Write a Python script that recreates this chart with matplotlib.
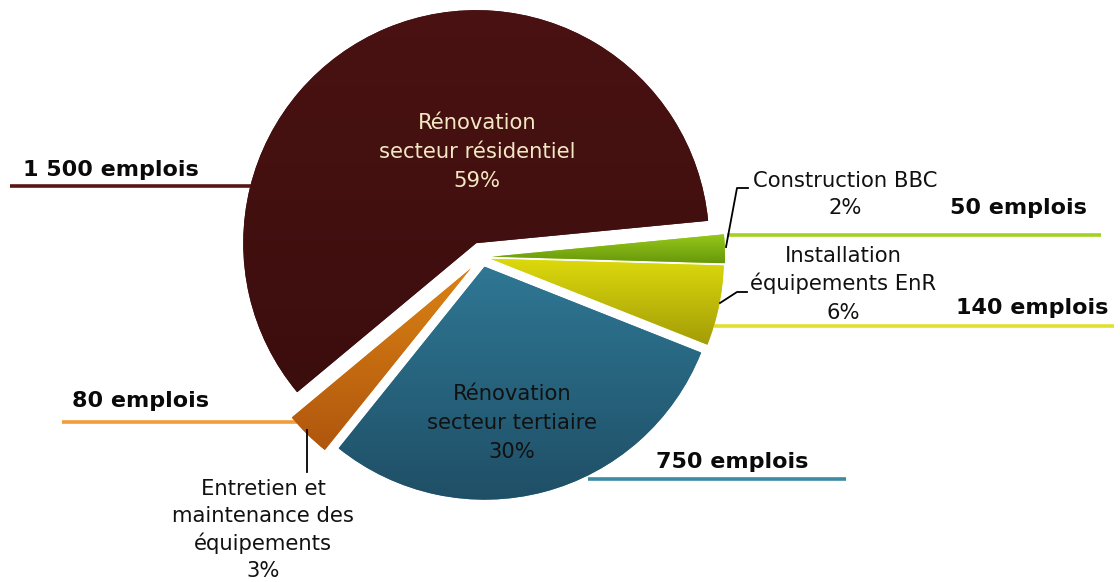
import numpy as np
import matplotlib
matplotlib.use("Agg")
import matplotlib.pyplot as plt
from matplotlib.colors import LinearSegmentedColormap

# ---- data ----
categories = ["Rénovation\nsecteur résidentiel", "Entretien et\nmaintenance des\néquipements",
              "Rénovation\nsecteur tertiaire", "Installation\néquipements EnR", "Construction BBC"]
jobs = [1500, 80, 750, 140, 50]
job_labels = ["1 500 emplois", "80 emplois", "750 emplois", "140 emplois", "50 emplois"]
shares = [59, 3, 30, 6, 2]

colors_top = ["#4a1212", "#da8214", "#2f7794", "#dcd90c", "#98ca1c"]
colors_bot = ["#3c0d0d", "#b0560e", "#1f4f66", "#a39c08", "#68980a"]
line_colors = ["#5a1616", "#f39a3a", "#3d8aa3", "#e0e030", "#a4d124"]

W, H = 1120, 582
fig = plt.figure(figsize=(W / 100, H / 100), dpi=100)
ax = fig.add_axes([0, 0, 1, 1])

def Y(y):
    return H - y

cx, cy, R = 482, 257, 233
wedges, _ = ax.pie(jobs, startangle=5.5, counterclock=True,
                   center=(cx, Y(cy)), radius=R,
                   explode=[15, 16, 10, 9, 10],
                   colors=colors_top, wedgeprops=dict(linewidth=0))
ax.set_xlim(0, W)
ax.set_ylim(0, H)
ax.set_aspect("auto")
ax.axis("off")

# gradient fills
for w, ct, cb in zip(wedges, colors_top, colors_bot):
    ext = w.get_path().get_extents()
    cmap = LinearSegmentedColormap.from_list("g", [cb, ct])
    grad = np.linspace(0, 1, 256).reshape(-1, 1)
    im = ax.imshow(grad, cmap=cmap, origin="lower", aspect="auto",
                   extent=(ext.x0, ext.x1, ext.y0, ext.y1), zorder=2)
    im.set_clip_path(w)
ax.set_xlim(0, W)
ax.set_ylim(0, H)

font = "DejaVu Sans"
fs = 15.2
bfs = 16


def block(x, y_first_baseline, step, text, color):
    for i, line in enumerate(text.split("\n")):
        ax.text(x, Y(y_first_baseline + i * step), line, ha="center", va="baseline",
                fontsize=fs, color=color, family=font, zorder=5)


# category labels (index: 0 resid, 1 entretien, 2 tertiaire, 3 EnR, 4 BBC)
block(477, 129, 29, f"{categories[0]}\n{shares[0]}%", "#f3e8c4")
block(512, 400, 29, f"{categories[2]}\n{shares[2]}%", "#111111")
block(845, 187, 27.5, f"{categories[4]}\n{shares[4]}%", "#111111")
block(843, 262, 28.5, f"{categories[3]}\n{shares[3]}%", "#111111")
block(263, 495, 27.3, f"{categories[1]}\n{shares[1]}%", "#111111")

# leader lines (black)
ax.plot([726, 737, 748], [Y(247), Y(188), Y(188)], color="black", lw=1.3, zorder=6)
ax.plot([720, 737, 747], [Y(303), Y(292), Y(292)], color="black", lw=1.3, zorder=6)
ax.plot([307, 307], [Y(430), Y(472)], color="black", lw=1.3, zorder=6)

# job lines + labels
job_pos = [  # (line x0, x1, y, text x, text y)
    (10, 252, 186, 111, 170),
    (62, 300, 422, 140, 401),
    (588, 846, 479, 732, 462),
    (714, 1114, 326, 1032, 308),
    (727, 1101, 235, 1018, 208),
]
for (x0, x1, yl, tx, ty), lab, lc in zip(job_pos, job_labels, line_colors):
    ax.plot([x0, x1], [Y(yl), Y(yl)], color=lc, lw=2.6, zorder=1, solid_capstyle="butt")
    ax.text(tx, Y(ty), lab, ha="center", va="center", fontsize=bfs,
            fontweight="bold", color="#0a0a0a", family=font, zorder=5)

fig.savefig("out.png", dpi=100)
